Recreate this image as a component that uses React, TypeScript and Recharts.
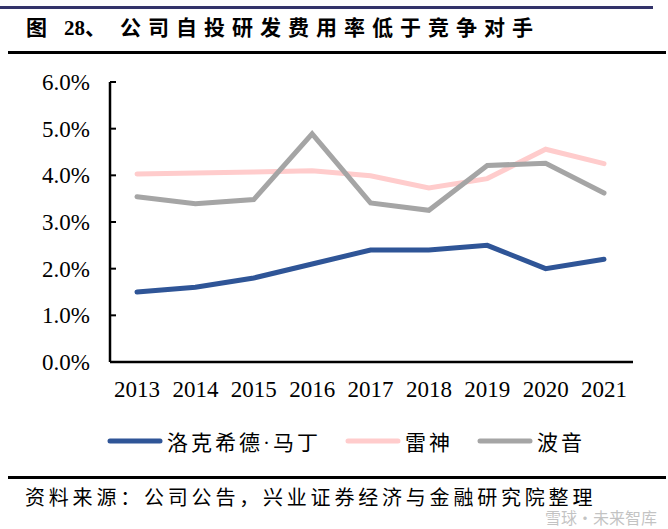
import { CartesianGrid, Legend, Line, LineChart, XAxis, YAxis } from "recharts"

const YEARS = ["2013", "2014", "2015", "2016", "2017", "2018", "2019", "2020", "2021"]
const LOCKHEED = [1.5, 1.6, 1.8, 2.1, 2.4, 2.4, 2.5, 2.0, 2.2]
const RAYTHEON = [4.03, 4.05, 4.07, 4.1, 3.99, 3.73, 3.93, 4.56, 4.25]
const BOEING = [3.54, 3.39, 3.48, 4.89, 3.41, 3.25, 4.21, 4.26, 3.62]
const Y_TICKS = [0, 1, 2, 3, 4, 5, 6]

const SERIES = [
  { key: "lockheed", name: "洛克希德·马丁", color: "#2F5597" },
  { key: "raytheon", name: "雷神", color: "#FFCCCC" },
  { key: "boeing", name: "波音", color: "#A5A5A5" },
]

const data = YEARS.map((year, i) => ({
  year,
  lockheed: LOCKHEED[i],
  raytheon: RAYTHEON[i],
  boeing: BOEING[i],
}))

const SERIF = '"Liberation Serif", "Times New Roman", serif'
const CJK = '"Liberation Serif", "Noto Sans CJK SC", serif'

function LegendContent() {
  return (
    <div style={{ display: "flex", alignItems: "center", paddingLeft: 107, height: 30 }}>
      {SERIES.map((s) => (
        <div key={s.key} style={{ display: "flex", alignItems: "center", marginRight: 24 }}>
          <svg width={56} height={8} style={{ marginRight: 4 }}>
            <line x1={3} y1={4} x2={53} y2={4} stroke={s.color} strokeWidth={5} strokeLinecap="round" />
          </svg>
          <span style={{ fontFamily: CJK, fontSize: 21, letterSpacing: 3, color: "#000" }}>{s.name}</span>
        </div>
      ))}
    </div>
  )
}

const titleStyle = {
  position: "absolute" as const,
  top: 13,
  fontFamily: CJK,
  fontWeight: 700,
  fontSize: 21,
  lineHeight: "30px",
  whiteSpace: "nowrap" as const,
  color: "#000",
}

export default function App() {
  return (
    <div
      style={{
        position: "absolute",
        left: 0,
        top: 0,
        width: 668,
        height: 529,
        background: "#fff",
        overflow: "hidden",
      }}
    >
      <div style={{ position: "absolute", left: 0, top: 6, width: 653, height: 2.5, background: "#33336A" }} />
      <span style={{ ...titleStyle, left: 26 }}>图</span>
      <span style={{ ...titleStyle, left: 64 }}>28、</span>
      <span style={{ ...titleStyle, left: 120, letterSpacing: 7 }}>公司自投研发费用率低于竞争对手</span>
      <div style={{ position: "absolute", left: 8, top: 51, width: 658, height: 2.5, background: "#000" }} />

      <LineChart
        width={668}
        height={529}
        data={data}
        margin={{ top: 82, right: 35, left: 0, bottom: 127 }}
      >
        <CartesianGrid stroke="none" />
        <XAxis
          dataKey="year"
          height={40}
          padding={{ left: 27, right: 29 }}
          tickLine={false}
          tickSize={0}
          tickMargin={19}
          axisLine={{ stroke: "#000", strokeWidth: 2.5 }}
          tick={{ fill: "#000", fontSize: 23, fontFamily: SERIF }}
          interval={0}
        />
        <YAxis
          width={110}
          domain={[0, 6]}
          ticks={Y_TICKS}
          tickSize={-6}
          tickMargin={26}
          tickLine={{ stroke: "#000", strokeWidth: 2 }}
          axisLine={{ stroke: "#000", strokeWidth: 2.5 }}
          tick={{ fill: "#000", fontSize: 23, fontFamily: SERIF }}
          tickFormatter={(v: number) => `${v.toFixed(1)}%`}
        />
        <Legend
          layout="horizontal"
          verticalAlign="middle"
          align="center"
          content={<LegendContent />}
          wrapperStyle={{ top: 426, left: 0, width: 668 }}
        />
        {SERIES.map((s) => (
          <Line
            key={s.key}
            type="linear"
            dataKey={s.key}
            name={s.name}
            stroke={s.color}
            strokeWidth={5}
            strokeLinecap="round"
            dot={false}
            activeDot={false}
            isAnimationActive={false}
          />
        ))}
      </LineChart>

      <div style={{ position: "absolute", left: 8, top: 476, width: 658, height: 2.5, background: "#000" }} />
      <div
        style={{
          position: "absolute",
          left: 25,
          top: 488,
          fontFamily: CJK,
          fontSize: 20,
          letterSpacing: 3.8,
          lineHeight: "20px",
          whiteSpace: "nowrap",
          color: "#000",
        }}
      >
        资料来源：公司公告，兴业证券经济与金融研究院整理
      </div>
      <div
        style={{
          position: "absolute",
          left: 545,
          top: 508,
          fontFamily: '"Noto Sans CJK SC", sans-serif',
          fontSize: 16,
          lineHeight: "18px",
          whiteSpace: "nowrap",
          color: "rgba(175,175,175,0.75)",
        }}
      >
        雪球·未来智库
      </div>
    </div>
  )
}
